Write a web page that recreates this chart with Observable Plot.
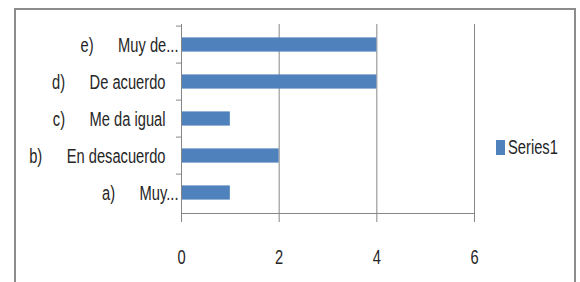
<!DOCTYPE html>
<html>
<head>
<meta charset="utf-8">
<script src="https://cdn.jsdelivr.net/npm/d3@7"></script>
<script src="https://cdn.jsdelivr.net/npm/@observablehq/plot@0.6"></script>
<style>
  html, body { margin: 0; padding: 0; background: #fff; overflow: hidden; }
  #wrap { position: relative; width: 580px; height: 282px; }
  #frame { position: absolute; left: 14px; top: 8px; width: 562px; height: 300px; border: 2px solid #8c8c8c; border-bottom: none; box-sizing: border-box; }
  #chart { position: absolute; left: 0; top: 0; }
  #legend { position: absolute; left: 496px; top: 140px; height: 15px; font-family: "Liberation Sans", Arial, sans-serif; font-size: 21px; color: #262626; }
  #legend .sw { position: absolute; left: 0; top: 0; width: 9px; height: 15px; background: #4F81BD; }
  #legend .lab { position: absolute; left: 12px; top: -5px; line-height: 24px; white-space: nowrap; transform: scaleX(0.7); transform-origin: 0 50%; }
  svg text { font-family: "Liberation Sans", Arial, sans-serif; }
</style>
</head>
<body>
<div id="wrap">
  <div id="frame"></div>
  <div id="chart"></div>
  <div id="legend"><span class="sw"></span><span class="lab" id="legendLabel"></span></div>
</div>
<script>
const letters = ["a)", "b)", "c)", "d)", "e)"];
const categories = ["Muy...", "En desacuerdo", "Me da igual", "De acuerdo", "Muy de..."];
const values = [1, 2, 1, 4, 4];
const xTicks = [0, 2, 4, 6];
const seriesName = "Series1";

const data = letters.map((l, i) => ({key: l, label: l + "\u00A0".repeat(6) + categories[i], value: values[i], cut: categories[i].endsWith("...")}));
const labelOf = new Map(data.map(d => [d.key, d.label]));
const cutKeys = data.filter(d => d.cut).map(d => d.key);
const fullKeys = data.filter(d => !d.cut).map(d => d.key);

const W = 580, H = 282, mt = 24, mb = 69, ml = 181, mr = 106;
const step = (H - mt - mb) / letters.length;
const barH = 15;
const inset = (step - barH) / 2;
const gray = "#868686";
const blue = "#4F81BD";
const ink = "#262626";
const sx = 0.7;

const plot = Plot.plot({
  width: W, height: H,
  marginTop: mt, marginBottom: mb, marginLeft: ml, marginRight: mr,
  style: {fontSize: "21px", color: ink, background: "transparent", overflow: "visible"},
  x: {domain: [0, 6], label: null},
  y: {domain: letters.slice().reverse(), padding: 0, label: null},
  marks: [
    Plot.ruleX(xTicks.slice(1), {stroke: gray, strokeWidth: 1}),
    Plot.barX(data, {x: "value", y: "key", fill: blue, insetTop: inset, insetBottom: inset}),
    Plot.frame({anchor: "left", stroke: gray, strokeWidth: 1}),
    Plot.frame({anchor: "bottom", stroke: gray, strokeWidth: 1}),
    Plot.axisX({ticks: xTicks, tickSize: 9, tickPadding: 27, stroke: gray, tickFormat: d => String(d), fill: ink}),
    Plot.axisY({tickSize: 5, tickFormat: () => "", dy: -step / 2, stroke: gray}),
    Plot.axisY({ticks: cutKeys, tickSize: 0, tickPadding: 3, tickFormat: d => labelOf.get(d), fill: ink}),
    Plot.axisY({ticks: fullKeys, tickSize: 0, tickPadding: 16, tickFormat: d => labelOf.get(d), fill: ink})
  ]
});
// condense text horizontally (narrow typeface look)
plot.querySelectorAll("text").forEach(t => {
  const xa = t.getAttribute("x");
  const x = xa != null && /^-?[\d.]+$/.test(xa) ? +xa : 0;
  if (xa != null && /^-?[\d.]+$/.test(xa)) t.removeAttribute("x");
  const tr = t.getAttribute("transform") || "";
  t.setAttribute("transform", `${tr} translate(${x},0) scale(${sx},1)`);
});
document.getElementById("chart").appendChild(plot);
document.getElementById("legendLabel").textContent = seriesName;
</script>
</body>
</html>
